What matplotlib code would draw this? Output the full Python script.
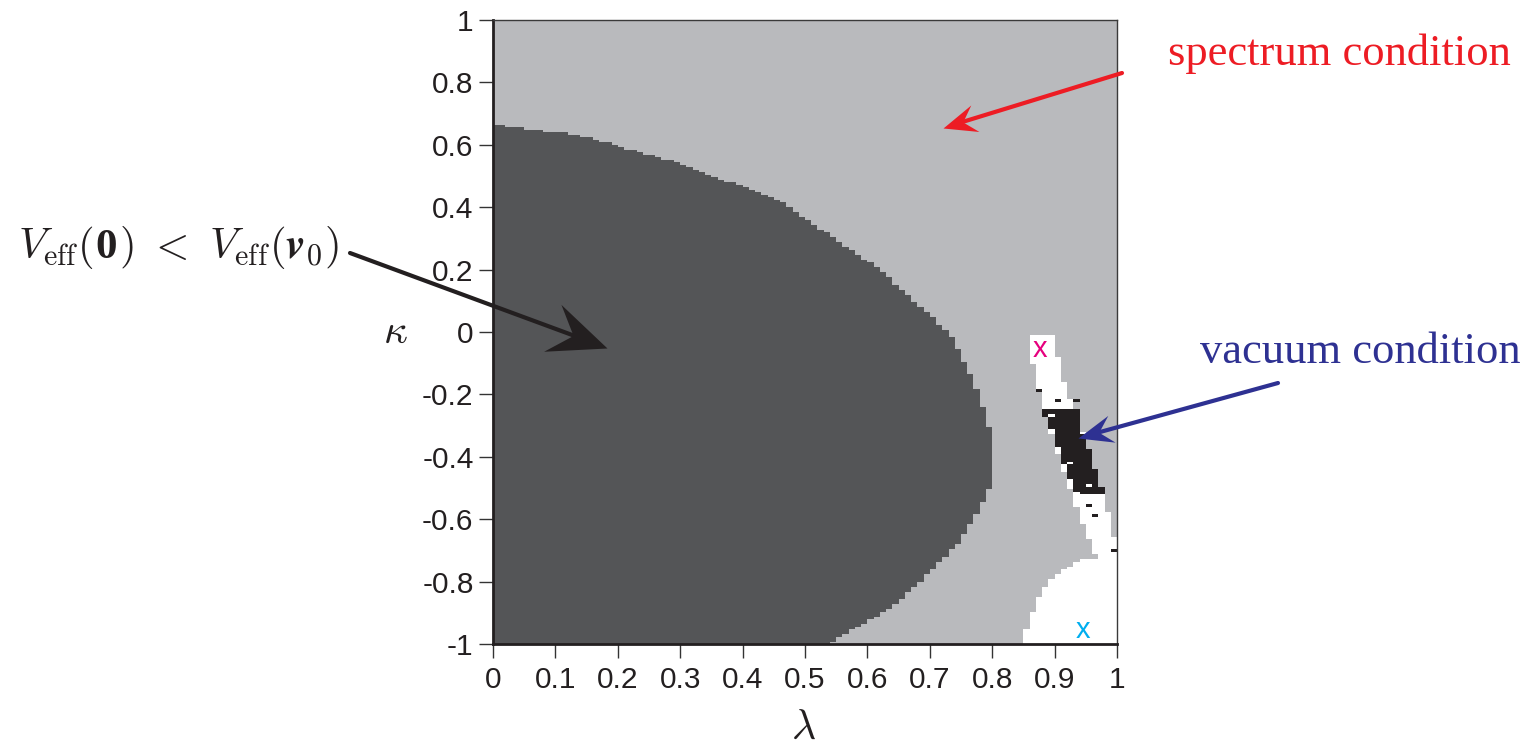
import numpy as np
import matplotlib
matplotlib.use("Agg")
import matplotlib.pyplot as plt
from matplotlib.colors import ListedColormap
from matplotlib.path import Path

# ---- region boundaries in the (lambda, kappa) plane ----
# dark region: lambda < dark_lambda(kappa)
dark_kappa = [0.665, 0.63, 0.54, 0.42, 0.20, 0.0, -0.13, -0.24, -0.31, -0.50, -0.58, -0.67, -0.77, -0.88, -1.0]
dark_lambda = [0.0, 0.14, 0.30, 0.46, 0.62, 0.73, 0.764, 0.785, 0.796, 0.796, 0.776, 0.748, 0.70, 0.641, 0.535]

# narrow white band (vacuum check region)
band_kappa = [-0.01, -0.18, -0.28, -0.39, -0.50, -0.60, -0.70, -0.725]
band_left = [0.856, 0.873, 0.887, 0.905, 0.925, 0.941, 0.962, 0.97]
band_right = [0.896, 0.917, 0.941, 0.952, 0.973, 0.989, 1.0, 1.0]

# lower-right white region: lambda > lw_lambda(kappa)
lw_kappa = [-1.0, -0.95, -0.89, -0.84, -0.79, -0.76, -0.73, -0.715]
lw_lambda = [0.845, 0.856, 0.866, 0.877, 0.895, 0.915, 0.945, 1.0]

# black core (vacuum condition satisfied)
black_kappa = [-0.245, -0.271, -0.314, -0.389, -0.442, -0.496, -0.522]
black_left = [0.885, 0.885, 0.895, 0.909, 0.919, 0.930, 0.940]
black_right = [0.941, 0.941, 0.943, 0.957, 0.965, 0.975, 0.976]

# isolated points
black_spots_lambda = [0.879, 0.901, 0.933, 0.951, 0.962, 0.991]
black_spots_kappa = [-0.191, -0.218, -0.223, -0.554, -0.592, -0.699]
white_spots_lambda = [0.930, 0.960, 0.900]
white_spots_kappa = [-0.423, -0.490, -0.270]

# benchmark points
pt_magenta = (0.877, -0.054)
pt_cyan = (0.946, -0.955)

x_ticks = [0, 0.1, 0.2, 0.3, 0.4, 0.5, 0.6, 0.7, 0.8, 0.9, 1]
x_ticklabels = ["0", "0.1", "0.2", "0.3", "0.4", "0.5", "0.6", "0.7", "0.8", "0.9", "1"]
y_ticks = [1, 0.8, 0.6, 0.4, 0.2, 0, -0.2, -0.4, -0.6, -0.8, -1]
y_ticklabels = ["1", "0.8", "0.6", "0.4", "0.2", "0", "-0.2", "-0.4", "-0.6", "-0.8", "-1"]

region_colors = ["#b9babd", "#545557", "#ffffff", "#231f20"]

# ---- build the classification grid ----
n_lam, n_kap = 100, 250
lam = (np.arange(n_lam) + 0.5) / n_lam
kap = -1 + (np.arange(n_kap) + 0.5) * 2 / n_kap
L, K = np.meshgrid(lam, kap)
grid = np.zeros_like(L, dtype=int)


def interp_k(k, ks, vs):
    ks = np.asarray(ks); vs = np.asarray(vs)
    order = np.argsort(ks)
    return np.interp(k, ks[order], vs[order])


mask = (K <= max(dark_kappa)) & (L <= interp_k(K, dark_kappa, dark_lambda))
grid[mask] = 1

mask = (K <= max(band_kappa)) & (K >= min(band_kappa)) & \
       (L >= interp_k(K, band_kappa, band_left)) & \
       (L <= interp_k(K, band_kappa, band_right))
grid[mask] = 2

mask = (K <= max(lw_kappa)) & (L >= interp_k(K, lw_kappa, lw_lambda))
grid[mask] = 2

mask = (K <= max(black_kappa)) & (K >= min(black_kappa)) & \
       (L >= interp_k(K, black_kappa, black_left)) & \
       (L <= interp_k(K, black_kappa, black_right))
grid[mask] = 3

for xl, yk in zip(black_spots_lambda, black_spots_kappa):
    grid[np.argmin(abs(kap - yk)), np.argmin(abs(lam - xl))] = 3
for xl, yk in zip(white_spots_lambda, white_spots_kappa):
    grid[np.argmin(abs(kap - yk)), np.argmin(abs(lam - xl))] = 2

# ---- figure ----
plt.rcParams["mathtext.fontset"] = "cm"
plt.rcParams["axes.unicode_minus"] = False
plt.rcParams["font.family"] = ["Liberation Sans", "DejaVu Sans"]

fig = plt.figure(figsize=(15.26, 7.46), dpi=100)
ax = fig.add_axes([493 / 1526, 1 - 644 / 746, 624 / 1526, 624 / 746])

ax.imshow(grid, cmap=ListedColormap(region_colors), vmin=-0.5, vmax=3.5,
          extent=[0, 1, -1, 1], origin="lower", aspect="auto",
          interpolation="nearest")
ax.set_xlim(0, 1)
ax.set_ylim(-1, 1)

ax.text(pt_magenta[0], pt_magenta[1], "x", color="#e6007e", fontsize=21,
        ha="center", va="center")
ax.text(pt_cyan[0], pt_cyan[1], "x", color="#00aeef", fontsize=21,
        ha="center", va="center")

ax.set_xticks(x_ticks)
ax.set_xticklabels(x_ticklabels)
ax.set_yticks(y_ticks)
ax.set_yticklabels(y_ticklabels)
ax.tick_params(direction="out", length=10, width=1.0, color="#333333",
               labelsize=21.5, labelcolor="#231f20")
ax.tick_params(axis="x", pad=6)
ax.tick_params(axis="y", pad=4)

for side in ["left", "bottom"]:
    ax.spines[side].set_linewidth(2.0)
    ax.spines[side].set_color("#231f20")
for side in ["top", "right"]:
    ax.spines[side].set_linewidth(1.0)
    ax.spines[side].set_color("#3a3a3a")

fig.text(395 / 1526, 1 - 332 / 746, r"$\kappa$", fontsize=30,
         ha="center", va="center", color="#231f20")
fig.text(803 / 1526, 1 - 728 / 746, r"$\lambda$", fontsize=30,
         ha="center", va="center", color="#231f20")


def stealth_arrow(tail_fig, tip_data, color, lw, head_len, head_wid):
    """Arrow with a swept-back head; sizes in points."""
    tail_disp = fig.transFigure.transform(tail_fig)
    tip_disp = ax.transData.transform(tip_data)
    d = tip_disp - tail_disp
    ang = np.arctan2(d[1], d[0])
    # shaft
    ax.annotate("", xy=tip_data, xycoords="data",
                xytext=tail_fig, textcoords="figure fraction",
                arrowprops=dict(arrowstyle="-", lw=lw, color=color,
                                shrinkA=0, shrinkB=head_len * 0.5),
                annotation_clip=False)
    # head: tip at origin, pointing along +x, then rotated
    verts = np.array([[0.0, 0.0],
                      [-head_len, head_wid / 2],
                      [-0.62 * head_len, 0.0],
                      [-head_len, -head_wid / 2],
                      [0.0, 0.0]])
    c, s = np.cos(ang), np.sin(ang)
    rot = verts @ np.array([[c, s], [-s, c]])
    marker = Path(rot, [Path.MOVETO, Path.LINETO, Path.LINETO, Path.LINETO,
                        Path.CLOSEPOLY])
    size = 2 * np.max(np.abs(rot))
    ax.plot([tip_data[0]], [tip_data[1]], marker=marker, markersize=size,
            color=color, markeredgewidth=0, linestyle="none", clip_on=False,
            zorder=5)


serif = ["Liberation Serif", "DejaVu Serif"]
fig.text(1168 / 1526, 1 - 65 / 746, "spectrum condition", color="#ed1c24",
         fontsize=32, family=serif, va="baseline", ha="left")
stealth_arrow((1122 / 1526, 1 - 73 / 746), (0.721, 0.654), "#ed1c24",
              3.0, 24, 20)

fig.text(1200 / 1526, 1 - 363 / 746, "vacuum condition", color="#2e3192",
         fontsize=32, family=serif, va="baseline", ha="left")
stealth_arrow((1278 / 1526, 1 - 383 / 746), (0.9375, -0.34), "#2e3192",
              3.0, 25, 20)

# V_eff(0) < V_eff(v_0), assembled piece by piece so the zero vector is bold
renderer = fig.canvas.get_renderer()
pieces = [
    (r"$V_{\mathrm{eff}}($", {}),
    ("0", dict(family=["Liberation Serif", "DejaVu Serif"], weight="bold")),
    (r"$)\ <\ V_{\mathrm{eff}}(\boldsymbol{v}_0)$", {}),
]
x_px = 18.0
base_y = 1 - 258 / 746
gaps = [1.5, 2.0, 0.0]
for (txt, kw), gap in zip(pieces, gaps):
    t = fig.text(x_px / 1526, base_y, txt, fontsize=31, color="#231f20",
                 va="baseline", ha="left", **kw)
    bb = t.get_window_extent(renderer=renderer)
    x_px = bb.x1 + gap

stealth_arrow((350 / 1526, 1 - 253 / 746), (0.183, -0.051), "#231f20",
              3.0, 42, 36)

fig.savefig("out.png", dpi=100, facecolor="white")
